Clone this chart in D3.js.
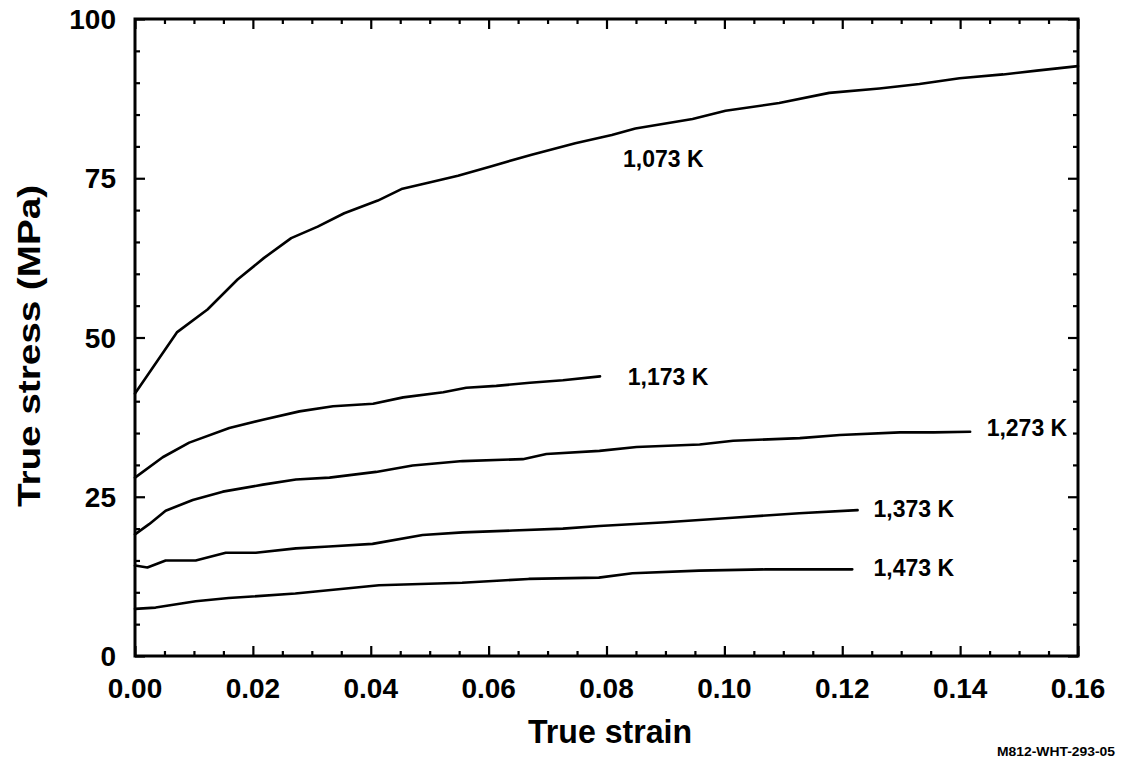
<!DOCTYPE html>
<html>
<head>
<meta charset="utf-8">
<script src="https://cdn.jsdelivr.net/npm/d3@7"></script>
<style>
  html, body { margin: 0; padding: 0; background: #fff; }
  svg { display: block; }
  text { font-family: "Liberation Sans", Arial, Helvetica, sans-serif; fill: #000; }
</style>
</head>
<body>
<svg id="chart" width="1122" height="759"></svg>
<script>
// ---- Data ----
const temperatures = ["1,073 K", "1,173 K", "1,273 K", "1,373 K", "1,473 K"];

const strain1073 = [0, 0.0071, 0.0123, 0.0174, 0.0219, 0.0265, 0.0310, 0.0355, 0.0412, 0.0452, 0.0503, 0.0548, 0.0605, 0.0673, 0.0747, 0.0809, 0.0849, 0.0946, 0.1002, 0.1093, 0.1178, 0.1263, 0.1331, 0.1399, 0.1473, 0.1530, 0.1600];
const stress1073 = [41.2, 50.8, 54.4, 59.1, 62.5, 65.6, 67.4, 69.5, 71.5, 73.3, 74.4, 75.4, 76.9, 78.7, 80.5, 81.8, 82.8, 84.3, 85.6, 86.8, 88.4, 89.1, 89.8, 90.7, 91.3, 91.9, 92.6];

const strain1173 = [0, 0.0047, 0.0092, 0.0160, 0.0217, 0.0279, 0.0336, 0.0404, 0.0455, 0.0523, 0.0562, 0.0613, 0.0670, 0.0726, 0.0789];
const stress1173 = [28.0, 31.2, 33.5, 35.8, 37.1, 38.4, 39.2, 39.6, 40.6, 41.4, 42.1, 42.4, 42.9, 43.3, 43.9];

const strain1273 = [0, 0.0024, 0.0052, 0.0098, 0.0149, 0.0217, 0.0273, 0.0330, 0.0409, 0.0471, 0.0556, 0.0658, 0.0698, 0.0788, 0.0851, 0.0958, 0.1015, 0.1128, 0.1196, 0.1298, 0.1355, 0.1417];
const stress1273 = [19.1, 20.7, 22.8, 24.5, 25.8, 26.9, 27.7, 28.0, 28.9, 29.9, 30.6, 30.9, 31.7, 32.2, 32.8, 33.2, 33.8, 34.2, 34.7, 35.1, 35.1, 35.2];

const strain1373 = [0, 0.0021, 0.0052, 0.0103, 0.0154, 0.0205, 0.0273, 0.0329, 0.0403, 0.0488, 0.0556, 0.0641, 0.0726, 0.0788, 0.0901, 0.1014, 0.1127, 0.1226];
const stress1373 = [14.2, 13.9, 15.0, 15.0, 16.2, 16.2, 16.9, 17.2, 17.6, 19.0, 19.4, 19.7, 20.0, 20.4, 21.0, 21.7, 22.4, 22.9];

const strain1473 = [0, 0.0035, 0.0103, 0.0159, 0.0272, 0.0414, 0.0555, 0.0668, 0.0787, 0.0844, 0.0957, 0.1070, 0.1217];
const stress1473 = [7.4, 7.6, 8.6, 9.1, 9.8, 11.1, 11.5, 12.1, 12.3, 13.0, 13.4, 13.6, 13.6];

// label anchor points (data units: strain, stress)
const labelStrain = [0.0828, 0.0836, 0.1445, 0.1253, 0.1253];
const labelStress = [76.8, 42.6, 34.6, 21.8, 12.5];

const xTickValues = [0, 0.02, 0.04, 0.06, 0.08, 0.10, 0.12, 0.14, 0.16];
const xTickLabels = ["0.00", "0.02", "0.04", "0.06", "0.08", "0.10", "0.12", "0.14", "0.16"];
const yTickValues = [0, 25, 50, 75, 100];
const yTickLabels = ["0", "25", "50", "75", "100"];

const xTitle = "True strain";
const yTitle = "True stress (MPa)";
const footnote = "M812-WHT-293-05";

// ---- Layout ----
const plotL = 135, plotR = 1078, plotT = 19, plotB = 656;

const svg = d3.select("#chart");
const x = d3.scaleLinear().domain([0, 0.16]).range([plotL, plotR]);
const y = d3.scaleLinear().domain([0, 100]).range([plotB, plotT]);

const xMinor = d3.range(0, 33).map(i => i * 0.005).filter((v, i) => i % 4 !== 0);
const yMinor = d3.range(0, 21).map(i => i * 5).filter(v => v % 25 !== 0);

function styleAxis(g) {
  g.select(".domain").remove();
  g.selectAll(".tick line").attr("stroke", "#000").attr("stroke-width", 2.2);
}

// ticks (inward) on all four sides
svg.append("g").attr("transform", `translate(0,${plotB})`)
  .call(d3.axisBottom(x).tickValues(xTickValues).tickSize(-10).tickFormat(""))
  .call(styleAxis);
svg.append("g").attr("transform", `translate(0,${plotB})`)
  .call(d3.axisBottom(x).tickValues(xMinor).tickSize(-5).tickFormat(""))
  .call(styleAxis);
svg.append("g").attr("transform", `translate(0,${plotT})`)
  .call(d3.axisTop(x).tickValues(xTickValues).tickSize(-10).tickFormat(""))
  .call(styleAxis);
svg.append("g").attr("transform", `translate(0,${plotT})`)
  .call(d3.axisTop(x).tickValues(xMinor).tickSize(-5).tickFormat(""))
  .call(styleAxis);
svg.append("g").attr("transform", `translate(${plotL},0)`)
  .call(d3.axisLeft(y).tickValues(yTickValues).tickSize(-10).tickFormat(""))
  .call(styleAxis);
svg.append("g").attr("transform", `translate(${plotL},0)`)
  .call(d3.axisLeft(y).tickValues(yMinor).tickSize(-5).tickFormat(""))
  .call(styleAxis);
svg.append("g").attr("transform", `translate(${plotR},0)`)
  .call(d3.axisRight(y).tickValues(yTickValues).tickSize(-10).tickFormat(""))
  .call(styleAxis);
svg.append("g").attr("transform", `translate(${plotR},0)`)
  .call(d3.axisRight(y).tickValues(yMinor).tickSize(-5).tickFormat(""))
  .call(styleAxis);

// frame
svg.append("rect")
  .attr("x", plotL).attr("y", plotT)
  .attr("width", plotR - plotL).attr("height", plotB - plotT)
  .attr("fill", "none").attr("stroke", "#000").attr("stroke-width", 3);

// tick labels
svg.append("g").selectAll("text").data(xTickValues).join("text")
  .attr("x", d => x(d)).attr("y", plotB + 42)
  .attr("text-anchor", "middle")
  .attr("font-size", 28).attr("font-weight", "bold")
  .text((d, i) => xTickLabels[i]);

svg.append("g").selectAll("text").data(yTickValues).join("text")
  .attr("x", plotL - 19).attr("y", d => y(d) + 10)
  .attr("text-anchor", "end")
  .attr("font-size", 28).attr("font-weight", "bold")
  .text((d, i) => yTickLabels[i]);

// axis titles
svg.append("text")
  .attr("x", 610).attr("y", 743)
  .attr("text-anchor", "middle")
  .attr("font-size", 34).attr("font-weight", "bold")
  .attr("textLength", 164).attr("lengthAdjust", "spacingAndGlyphs")
  .text(xTitle);

svg.append("text")
  .attr("transform", "translate(40,346) rotate(-90)")
  .attr("text-anchor", "middle")
  .attr("font-size", 32).attr("font-weight", "bold")
  .attr("textLength", 322).attr("lengthAdjust", "spacingAndGlyphs")
  .text(yTitle);

// curves
const series = [
  { s: strain1073, t: stress1073 },
  { s: strain1173, t: stress1173 },
  { s: strain1273, t: stress1273 },
  { s: strain1373, t: stress1373 },
  { s: strain1473, t: stress1473 }
];
const line = d3.line().x(d => x(d[0])).y(d => y(d[1]));

svg.append("g").selectAll("path").data(series).join("path")
  .attr("d", d => line(d.s.map((v, i) => [v, d.t[i]])))
  .attr("fill", "none").attr("stroke", "#000").attr("stroke-width", 2.6)
  .attr("stroke-linejoin", "round").attr("stroke-linecap", "round");

// curve labels
svg.append("g").selectAll("text").data(temperatures).join("text")
  .attr("x", (d, i) => x(labelStrain[i]))
  .attr("y", (d, i) => y(labelStress[i]))
  .attr("font-size", 23).attr("font-weight", "bold")
  .text(d => d);

// footnote
svg.append("text")
  .attr("x", 1115).attr("y", 756)
  .attr("text-anchor", "end")
  .attr("font-size", 13).attr("font-weight", "bold")
  .attr("textLength", 118).attr("lengthAdjust", "spacingAndGlyphs")
  .text(footnote);
</script>
</body>
</html>
